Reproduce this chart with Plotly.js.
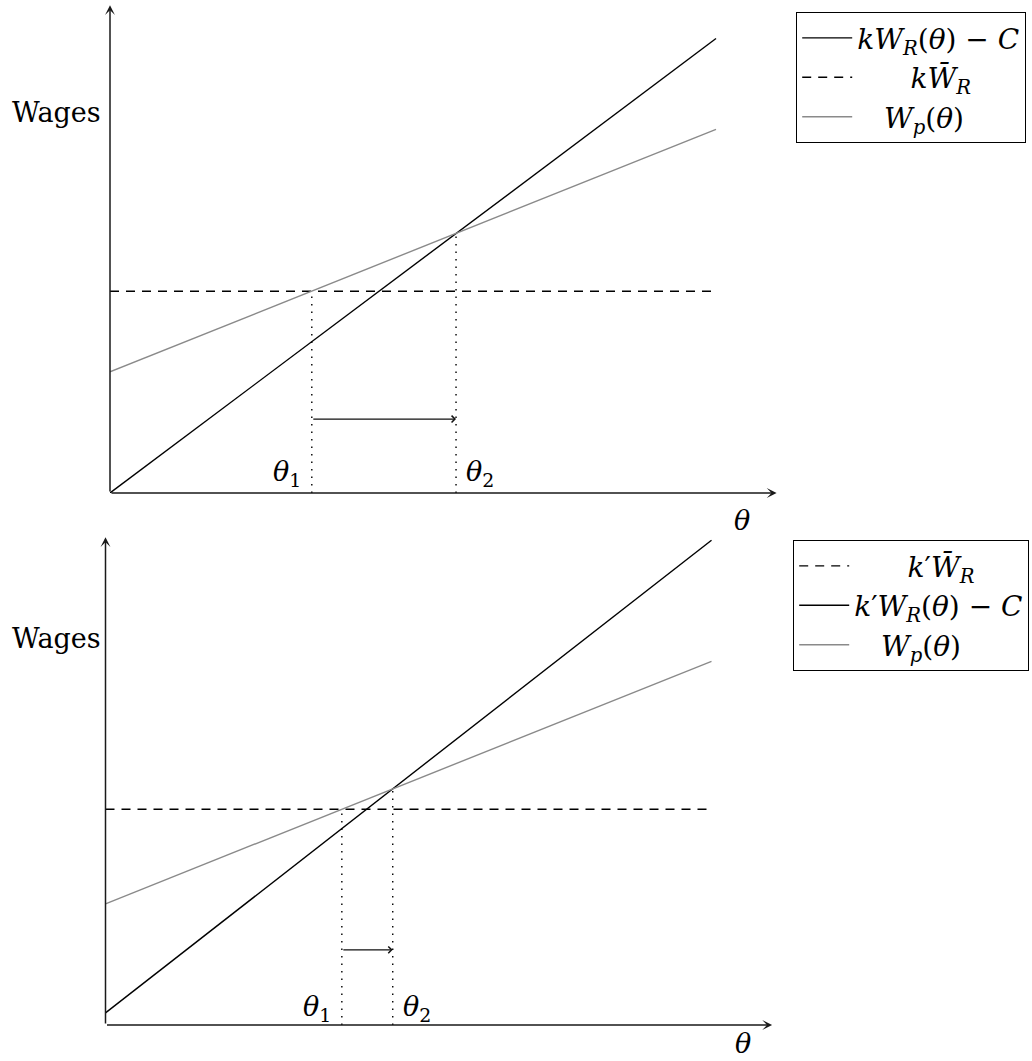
<!DOCTYPE html>
<html>
<head>
<meta charset="utf-8">
<script src="https://cdn.plot.ly/plotly-3.0.1.min.js"></script>
<style>
html,body{margin:0;padding:0;background:#fff;}
#chart svg text{font-family:'DejaVu Serif',serif !important;}
</style>
</head>
<body>
<div id="chart" style="width:1032px;height:1061px;"></div>
<script>
// ---- data (abstract units) ----
const thetaEnds = [0, 10];
// top panel
const topKWR = [0, 7.5];          // kW_R(θ) − C
const topKWbar = [3.33, 3.33];    // k W̄_R
const topWp = [2, 6];             // W_p(θ)
const topTheta = [3.33, 5.71];    // θ1, θ2
const topThetaHeights = [3.33, 4.29];
// bottom panel
const botKWR = [0.2, 8.0];        // k'W_R(θ) − C
const botKWbar = [3.56, 3.56];    // k' W̄_R
const botWp = [2, 6];             // W_p(θ)
const botTheta = [3.9, 4.74];     // θ1, θ2
const botThetaHeights = [3.56, 3.9];
const thetaLabels = ['<i>θ</i><sub>1</sub>', '<i>θ</i><sub>2</sub>'];
const nameTopKWR = '<i>kW</i><sub><i>R</i></sub>(<i>θ</i>) − <i>C</i>';
const nameTopKWbar = '\u00a0\u00a0\u00a0\u00a0\u00a0\u00a0<i>kW\u0304</i><sub><i>R</i></sub>';
const nameWp = '\u00a0\u00a0\u00a0<i>W</i><sub><i>p</i></sub>(<i>θ</i>)';
const nameBotKWR = '<i>k</i>\u2032<i>W</i><sub><i>R</i></sub>(<i>θ</i>) − <i>C</i>';
const nameBotKWbar = '\u00a0\u00a0\u00a0\u00a0\u00a0\u00a0<i>k</i>\u2032<i>W\u0304</i><sub><i>R</i></sub>';

const BLACK = '#000000', GRAY = '#8a8a8a';
const W = 1032, H = 1061;
const FONT = 'DejaVu Serif';

function line(x, y, name, color, dash, xa, ya, leg, show) {
  return {type:'scatter', mode:'lines', x:x, y:y, name:name, xaxis:xa, yaxis:ya,
    legend:leg, showlegend:show, hoverinfo:'skip',
    line:{color:color, width:1.4, dash:dash}};
}
const DOT = '1.5px,6px';
const DASH = '9px,7px';

const traces = [
  line(thetaEnds, topKWR, nameTopKWR, BLACK, 'solid', 'x', 'y', 'legend', true),
  line(thetaEnds, topKWbar, nameTopKWbar, BLACK, DASH, 'x', 'y', 'legend', true),
  line(thetaEnds, topWp, nameWp, GRAY, 'solid', 'x', 'y', 'legend', true),
  line([topTheta[0], topTheta[0]], [0, topThetaHeights[0]], 'd1', BLACK, DOT, 'x', 'y', 'legend', false),
  line([topTheta[1], topTheta[1]], [0, topThetaHeights[1]], 'd2', BLACK, DOT, 'x', 'y', 'legend', false),

  line(thetaEnds, botKWbar, nameBotKWbar, BLACK, DASH, 'x2', 'y2', 'legend2', true),
  line(thetaEnds, botKWR, nameBotKWR, BLACK, 'solid', 'x2', 'y2', 'legend2', true),
  line(thetaEnds, botWp, nameWp, GRAY, 'solid', 'x2', 'y2', 'legend2', true),
  line([botTheta[0], botTheta[0]], [0, botThetaHeights[0]], 'd3', BLACK, DOT, 'x2', 'y2', 'legend2', false),
  line([botTheta[1], botTheta[1]], [0, botThetaHeights[1]], 'd4', BLACK, DOT, 'x2', 'y2', 'legend2', false)
];

const unit = 60.6;
function ax(left) { return {domain:[left/W, (left + 11*unit)/W], range:[0, 11], visible:false, fixedrange:true}; }
function ay(origin) { return {domain:[1 - origin/H, 1 - (origin - 8.05*unit)/H], range:[0, 8.05], visible:false, fixedrange:true}; }

function axisArrow(xr, yr, x, y) {
  return {xref:xr, yref:yr, axref:xr, ayref:yr, x:x, y:y, ax:0, ay:0, text:'',
    showarrow:true, arrowhead:3, arrowsize:1.1, arrowwidth:1.5, arrowcolor:'#1a1a1a'};
}
function shiftArrow(xr, yr, x0, x1, y) {
  return {xref:xr, yref:yr, axref:xr, ayref:yr, x:x1, y:y, ax:x0, ay:y, text:'',
    showarrow:true, arrowhead:4, arrowsize:1.1, arrowwidth:1.2, arrowcolor:'#111'};
}
function txt(text, x, y, opts) {
  return Object.assign({xref:'paper', yref:'paper', x:x/W, y:1 - y/H, text:text, showarrow:false,
    xanchor:'center', yanchor:'middle', font:{family:FONT, size:27}}, opts || {});
}
function thetaLab(xr, i, th, y) {
  return {xref:xr, yref:'paper', x:th, y:1 - y/H, text:thetaLabels[i], showarrow:false,
    xanchor: i === 0 ? 'right' : 'left', xshift: i === 0 ? -9 : 8, yanchor:'middle', font:{family:FONT, size:27}};
}
function legendCfg(x, y) {
  return {x:x/W, y:1 - y/H, xanchor:'left', yanchor:'top', bgcolor:'#fff',
    bordercolor:'#000', borderwidth:1.2, font:{family:FONT, size:28}, traceorder:'normal',
    tracegroupgap:0, itemwidth:50};
}

const layout = {
  width:W, height:H, margin:{l:0, r:0, t:0, b:0},
  paper_bgcolor:'#ffffff', plot_bgcolor:'rgba(0,0,0,0)',
  font:{family:FONT, size:27, color:'#000'},
  showlegend:true,
  xaxis:ax(110), yaxis:ay(493),
  xaxis2:ax(105.5), yaxis2:ay(1025),
  legend:legendCfg(796, 12),
  legend2:legendCfg(793, 540),
  annotations:[
    axisArrow('x', 'y', 11, 0), axisArrow('x', 'y', 0, 8.05),
    axisArrow('x2', 'y2', 11, 0), axisArrow('x2', 'y2', 0, 8.05),
    shiftArrow('x', 'y', topTheta[0], topTheta[1], 1.22),
    shiftArrow('x2', 'y2', botTheta[0], botTheta[1], 1.24),
    txt('Wages', 56, 112), txt('Wages', 56, 638),
    txt('<i>θ</i>', 742, 520), txt('<i>θ</i>', 743, 1043),
    thetaLab('x', 0, topTheta[0], 474), thetaLab('x', 1, topTheta[1], 474),
    thetaLab('x2', 0, botTheta[0], 1008), thetaLab('x2', 1, botTheta[1], 1008)
  ]
};

Plotly.newPlot('chart', traces, layout, {staticPlot:true, displayModeBar:false});
</script>
</body>
</html>
